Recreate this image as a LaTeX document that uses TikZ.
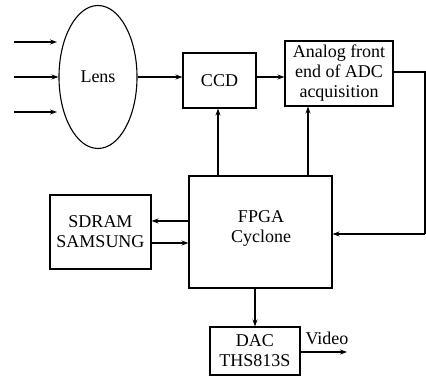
\documentclass[tikz,border=0pt]{standalone}
\usepackage{fontspec}
\setmainfont{Liberation Serif}
\usetikzlibrary{arrows.meta,shapes.geometric}
\begin{document}
\begin{tikzpicture}[x=1pt,y=-1pt,
  box/.style={draw,line width=1.1pt,rectangle,inner sep=0pt,align=center,font=\fontsize{18}{20}\selectfont},
  txt/.style={inner sep=0pt,align=center,font=\fontsize{18}{20}\selectfont},
  conn/.style={line width=1.1pt,-{Stealth[length=7pt,width=5pt]}},
  plain/.style={line width=1.1pt}]
\useasboundingbox (0,0) rectangle (426,379);
\node[draw,line width=1.1pt,ellipse,inner sep=0pt,minimum width=78pt,minimum height=143pt,font=\fontsize{18}{20}\selectfont] (lens) at (98,77) {Lens};
\node[box,minimum width=73pt,minimum height=55pt] (ccd) at (219.5,80.5) {CCD};
\node[box,minimum width=108pt,minimum height=65pt] (afe) at (339,73.5) {Analog front\\end of ADC\\acquisition};
\node[box,minimum width=143pt,minimum height=112pt] (fpga) at (260.5,232) {};
\node[txt] (fpgatext) at (261,228) {FPGA\\Cyclone};
\node[box,minimum width=101pt,minimum height=74pt] (sdram) at (100.5,232) {SDRAM\\SAMSUNG};
\node[box,minimum width=90pt,minimum height=48pt] (dac) at (255,351) {DAC\\THS813S};
\node[txt] (video) at (327,338) {Video};
% input arrows
\coordinate (i1s) at (14,42); \coordinate (i1e) at (57,42);
\coordinate (i2s) at (14,77); \coordinate (i2e) at (lens.west);
\coordinate (i3s) at (14,112); \coordinate (i3e) at (57,112);
\draw[conn] (i1s) -- (i1e);
\draw[conn] (i2s) -- (i2e);
\draw[conn] (i3s) -- (i3e);
\draw[conn] (lens.east) -- (ccd.west |- lens.east);
\draw[conn] (ccd.east |- 0,77) -- (afe.west |- 0,77);
\draw[conn] (fpga.north -| 218,0) -- (ccd.south -| 218,0);
\draw[conn] (fpga.north -| 308,0) -- (afe.south -| 308,0);
\coordinate (r1) at (425,72);
\coordinate (r2) at (425,234);
\draw[plain] (afe.east |- r1) -- (r1) -- (r2);
\draw[conn] (r2) -- (fpga.east |- r2);
\draw[conn] (fpga.west |- 0,221) -- (sdram.east |- 0,221);
\draw[conn] (sdram.east |- 0,243) -- (fpga.west |- 0,243);
\draw[conn] (fpga.south -| dac.north) -- (dac.north);
\coordinate (vend) at (347,352);
\draw[conn] (dac.east |- vend) -- (vend);
\end{tikzpicture}
\end{document}
